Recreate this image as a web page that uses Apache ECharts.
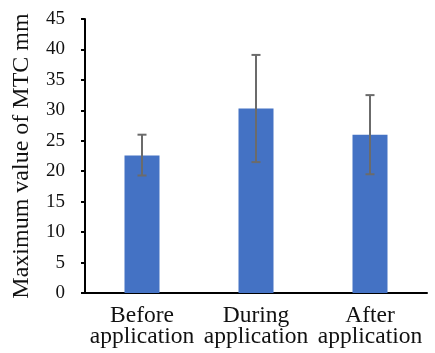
<!DOCTYPE html>
<html>
<head>
<meta charset="utf-8">
<script src="https://cdn.jsdelivr.net/npm/echarts@6/dist/echarts.min.js"></script>
<style>html,body{margin:0;padding:0;background:#fff;}#c{width:435px;height:353px;}</style>
</head>
<body>
<div id="c"></div>
<script>
var categories = ['Before\napplication', 'During\napplication', 'After\napplication'];
var means = [22.6, 30.3, 26.0];
var errLow = [19.3, 21.5, 19.5];
var errHigh = [26.0, 39.1, 32.5];
var yTicks = [0, 5, 10, 15, 20, 25, 30, 35, 40, 45];

var font = 'Liberation Serif';
var chart = echarts.init(document.getElementById('c'));
var errData = categories.map(function (c, i) { return [i, errLow[i], errHigh[i]]; });
chart.setOption({
  animation: false,
  textStyle: { fontFamily: font },
  grid: { left: 85, right: 8, top: 19, bottom: 60 },
  xAxis: {
    type: 'category',
    data: categories,
    axisLine: { lineStyle: { color: '#000', width: 2 } },
    axisTick: { show: false },
    axisLabel: { color: '#111', fontFamily: font, fontSize: 23.5, lineHeight: 21, margin: 12, interval: 0 }
  },
  yAxis: {
    type: 'value',
    min: yTicks[0], max: yTicks[yTicks.length - 1], interval: 5,
    name: 'Maximum value of MTC mm',
    nameLocation: 'middle',
    nameGap: 51,
    nameTextStyle: { color: '#111', fontFamily: font, fontSize: 24 },
    axisLine: { show: true, lineStyle: { color: '#000', width: 2 } },
    axisTick: { show: true, length: 4, lineStyle: { color: '#000', width: 2 } },
    splitLine: { show: false },
    axisLabel: { color: '#111', fontFamily: font, fontSize: 19, margin: 20 }
  },
  series: [
    {
      type: 'bar',
      data: means,
      barWidth: 35,
      itemStyle: { color: '#4472C4' }
    },
    {
      type: 'custom',
      data: errData,
      z: 10,
      renderItem: function (params, api) {
        var x = api.value(0);
        var lo = api.coord([x, api.value(1)]);
        var hi = api.coord([x, api.value(2)]);
        var hw = 4.5;
        var st = { stroke: '#6b6b6b', lineWidth: 2 };
        return {
          type: 'group',
          children: [
            { type: 'line', shape: { x1: hi[0], y1: hi[1], x2: lo[0], y2: lo[1] }, style: st },
            { type: 'line', shape: { x1: hi[0] - hw, y1: hi[1], x2: hi[0] + hw, y2: hi[1] }, style: st },
            { type: 'line', shape: { x1: lo[0] - hw, y1: lo[1], x2: lo[0] + hw, y2: lo[1] }, style: st }
          ]
        };
      }
    }
  ]
});
</script>
</body>
</html>
